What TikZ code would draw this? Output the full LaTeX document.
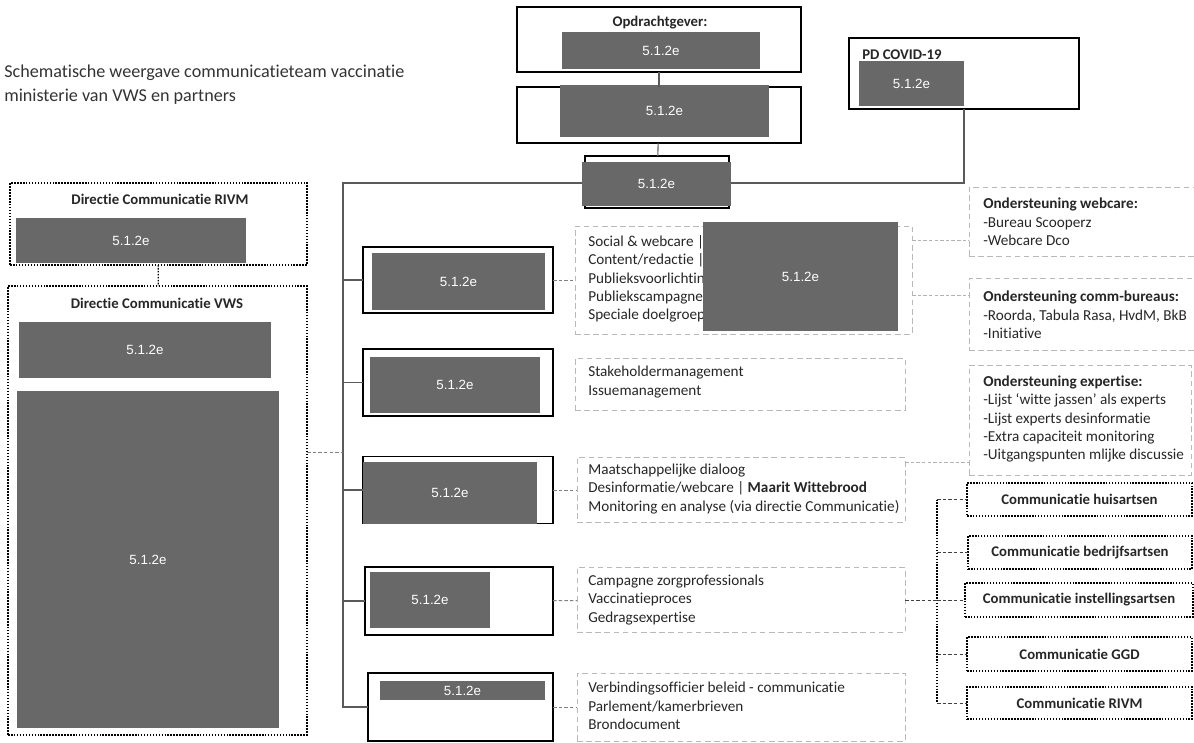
\documentclass[tikz,border=0pt]{standalone}
\usepackage{fontspec}
\setmainfont{Carlito}[Ligatures={NoCommon}]
\newfontfamily\lakfont{Liberation Sans}
\definecolor{redact}{RGB}{104,104,104}
\definecolor{lijn}{RGB}{90,90,90}
\tikzset{
  wk/.style 2 args={minimum width=#1*0.025cm, minimum height=#2*0.025cm, inner sep=0pt, outer sep=0pt},
  lak/.style={fill=redact, text=white, font=\lakfont\fontsize{9.5}{11}\selectfont},
  lid/.style={draw=black, line width=1pt},
  lid2/.style={draw=black, line width=1.5pt},
  taak/.style={draw=gray!55, line width=0.7pt, dash pattern=on 4pt off 2.5pt},
  partner/.style={draw=black, line width=1.1pt, densely dotted},
  txt/.style={anchor=west, align=left, inner sep=0pt, font=\fontsize{10.8}{13}\selectfont, text=black!85},
  kop/.style={inner sep=0pt, font=\bfseries\fontsize{10.5}{12}\selectfont, text=black!85},
  hoofd/.style={line width=0.8pt, draw=lijn},
  stip/.style={line width=0.7pt, draw=gray, dash pattern=on 2.5pt off 1.5pt},
}
\begin{document}
\begin{tikzpicture}[x=0.025cm, y=-0.025cm]
  \useasboundingbox (0,0) rectangle (1194,742);
  \clip (0,0) rectangle (1194,742);
  % titel
  \node[anchor=west, align=left, inner sep=0pt, font=\fontsize{12.9}{17}\selectfont, text=black!80]
    (titel) at (4,85) {Schematische weergave communicatieteam vaccinatie\\ministerie van VWS en partners};
  % top
  \node[lid, wk={284}{65}] (opdr) at (659,39.5) {};
  \node[kop] (opdr-k) at (660,23) {Opdrachtgever:};
  \node[lak, wk={198}{37}] (opdr-g) at (661,50.5) {5.1.2e};
  \node[lid, wk={284}{56}] (lead) at (659,115) {};
  \node[lak, wk={209}{52}] (lead-g) at (664.5,111) {5.1.2e};
  \node[lid2, wk={144}{52}] (coord) at (657,182) {};
  \node[lak, wk={149}{44}] (coord-g) at (656.5,184) {5.1.2e};
  \node[lid, wk={230}{71}] (pd) at (964,73.5) {};
  \node[kop, anchor=west] (pd-k) at (862,55) {PD COVID-19};
  \node[lak, wk={105}{45}] (pd-g) at (911.5,83.5) {5.1.2e};
  \coordinate (sp) at (343,183);
  \coordinate (sp-eind) at (343,708);
  \begin{scope}[hoofd]
    \draw (opdr) -- (lead);
    \draw (lead) -- (coord);
    \draw (coord-g.west |- sp) -- (sp) -- (sp-eind);
    \draw (coord-g.east |- sp) -| (pd);
  \end{scope}
  % links
  \node[partner, wk={297}{82}] (rivm) at (158.5,224) {};
  \node[kop] (rivm-k) at (160,199) {Directie Communicatie RIVM};
  \node[lak, wk={230}{45}] (rivm-g) at (131,240.5) {5.1.2e};
  \node[partner, wk={299}{449}] (vws) at (157.5,510.5) {};
  \node[kop] (vws-k) at (157,303) {Directie Communicatie VWS};
  \node[lak, wk={252}{56}] (vws-g1) at (145,350) {5.1.2e};
  \node[lak, wk={262}{337}] (vws-g2) at (148,559.5) {5.1.2e};
  \coordinate (sp0) at (343,452);
  \draw[partner, line width=0.9pt] (rivm) -- (vws);
  \draw[stip] (vws.east |- sp0) -- (sp0);
  % teams
  \node[lid2, wk={190}{66}] (b1) at (458,280) {};
  \node[lak, wk={173}{57}] (b1-g) at (458.5,281.5) {5.1.2e};
  \node[lid, wk={190}{67}] (b2) at (458,382.5) {};
  \node[lak, wk={170}{56}] (b2-g) at (455,385) {5.1.2e};
  \node[lid, wk={190}{67}] (b3) at (458,490) {};
  \node[lak, wk={174}{62}] (b3-g) at (450,493) {5.1.2e};
  \node[lid2, wk={188}{68}] (b4) at (459,601) {};
  \node[lak, wk={120}{56}] (b4-g) at (430,600) {5.1.2e};
  \node[lid, wk={185}{68}] (b5) at (460.5,707) {};
  \node[lak, wk={165}{19}] (b5-g) at (462.5,690.5) {5.1.2e};
  % taken
  \node[taak, wk={337}{108}] (t1) at (743.5,280) {};
  \node[txt] (t1-x) at (588,279) {Social \& webcare |\\Content/redactie |\\Publieksvoorlichting\\Publiekscampagne\\Speciale doelgroepen};
  \node[lak, wk={195}{109}] (t1-g) at (800.5,276.5) {5.1.2e};
  \node[taak, wk={330}{52}] (t2) at (740,384) {};
  \node[txt] (t2-x) at (588,382) {Stakeholdermanagement\\Issuemanagement};
  \node[taak, wk={328}{65}] (t3) at (741,490) {};
  \node[txt] (t3-x) at (588,489) {Maatschappelijke dialoog\\Desinformatie/webcare | \textbf{Maarit Wittebrood}\\Monitoring en analyse (via directie Communicatie)};
  \node[taak, wk={328}{65}] (t4) at (741,600) {};
  \node[txt] (t4-x) at (588,600) {Campagne zorgprofessionals\\Vaccinatieproces\\Gedragsexpertise};
  \node[taak, wk={328}{68}] (t5) at (741,707) {};
  \node[txt] (t5-x) at (588,706) {Verbindingsofficier beleid - communicatie\\Parlement/kamerbrieven\\Brondocument};
  \begin{scope}[hoofd]
    \draw (b1 -| sp) -- (b1);
    \draw (b2 -| sp) -- (b2);
    \draw (b3 -| sp) -- (b3);
    \draw (b4 -| sp) -- (b4);
    \draw (b5 -| sp) -- (b5);
  \end{scope}
  \begin{scope}[stip]
    \draw (b1) -- (t1);
    \draw (b3) -- (t3);
    \draw (b4) -- (t4);
    \draw (b5) -- (t5);
  \end{scope}
  % ondersteuning
  \node[taak, wk={231}{69}] (web) at (1084.5,221.5) {};
  \node[txt] (web-x) at (983,222) {\textbf{Ondersteuning webcare:}\\-Bureau Scooperz\\-Webcare Dco};
  \node[taak, wk={231}{72}] (comm) at (1084.5,314) {};
  \node[txt] (comm-x) at (983,315) {\textbf{Ondersteuning comm-bureaus:}\\-Roorda, Tabula Rasa, HvdM, BkB\\-Initiative};
  \node[taak, wk={222}{110}] (exp) at (1080,420) {};
  \node[txt] (exp-x) at (983,419) {\textbf{Ondersteuning expertise:}\\-Lijst ‘witte jassen’ als experts\\-Lijst experts desinformatie\\-Extra capaciteit monitoring\\-Uitgangspunten mlijke discussie};
  \coordinate (wc) at (969,240);
  \coordinate (cc) at (969,295);
  \coordinate (ec) at (969,462);
  \begin{scope}[stip, draw=gray!60]
    \draw (t1.east |- wc) -- (wc);
    \draw (t1.east |- cc) -- (cc);
    \draw (t3.east |- ec) -- (ec);
  \end{scope}
  % beroepsgroepen
  \node[partner, wk={225}{33}] (hu) at (1079.5,499.5) {};
  \node[kop] at (hu) {Communicatie huisartsen};
  \node[partner, wk={224}{33}] (be) at (1080,552.5) {};
  \node[kop] at (be) {Communicatie bedrijfsartsen};
  \node[partner, wk={228}{34}] (in) at (1079,600) {};
  \node[kop] at (in) {Communicatie instellingsartsen};
  \node[partner, wk={225}{34}] (gg) at (1079.5,654) {};
  \node[kop] at (gg) {Communicatie GGD};
  \node[partner, wk={225}{32}] (ri) at (1079.5,703) {};
  \node[kop] at (ri) {Communicatie RIVM};
  \coordinate (tr) at (937,600);
  \draw[partner, line width=0.9pt] (hu -| tr) -- (ri -| tr);
  \begin{scope}[stip, draw=black!75]
    \draw (hu -| tr) -- (hu);
    \draw (be -| tr) -- (be);
    \draw (in -| tr) -- (in);
    \draw (gg -| tr) -- (gg);
    \draw (ri -| tr) -- (ri);
    \draw (t4) -- (tr);
  \end{scope}
\end{tikzpicture}
\end{document}
